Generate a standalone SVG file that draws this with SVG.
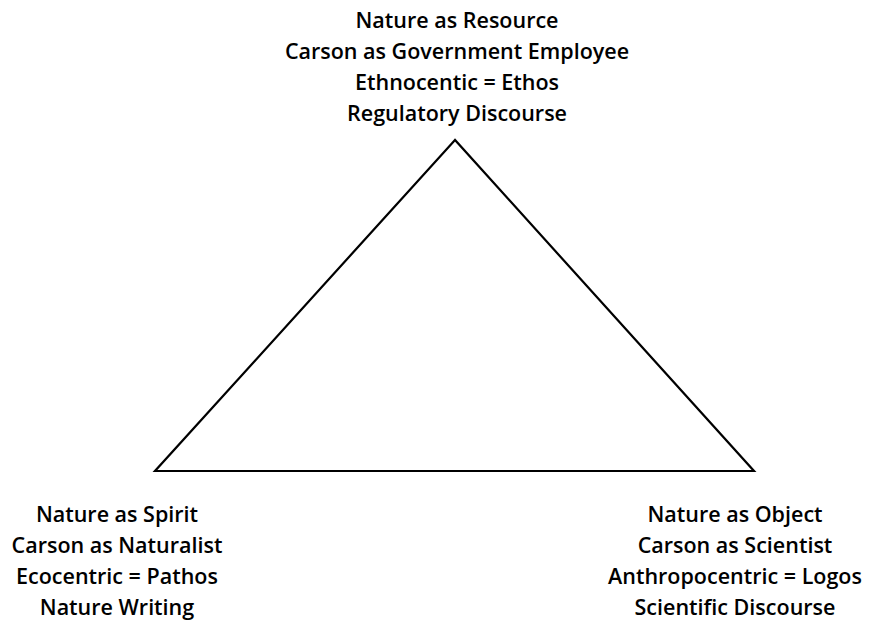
<svg xmlns="http://www.w3.org/2000/svg" width="870" height="621" viewBox="0 0 870 621">
<style>
text{font-family:"Open Sans","Liberation Sans",sans-serif;font-size:21.5px;font-weight:600;fill:#000;text-anchor:middle}
.edge{stroke:#000;stroke-width:2.2;fill:none;stroke-linejoin:miter}
</style>
<rect width="870" height="621" fill="#fff"/>
<g id="connectors">
<polygon class="edge" points="455,140 155,471 754,471"/>
</g>
<g id="node-top">
<text x="457" y="28">Nature as Resource</text>
<text x="457" y="59">Carson as Government Employee</text>
<text x="457" y="90">Ethnocentic = Ethos</text>
<text x="457" y="121">Regulatory Discourse</text>
</g>
<g id="node-left">
<text x="117" y="522">Nature as Spirit</text>
<text x="117" y="553">Carson as Naturalist</text>
<text x="117" y="584">Ecocentric = Pathos</text>
<text x="117" y="615">Nature Writing</text>
</g>
<g id="node-right">
<text x="735" y="522">Nature as Object</text>
<text x="735" y="553">Carson as Scientist</text>
<text x="735" y="584">Anthropocentric = Logos</text>
<text x="735" y="615">Scientific Discourse</text>
</g>
</svg>
